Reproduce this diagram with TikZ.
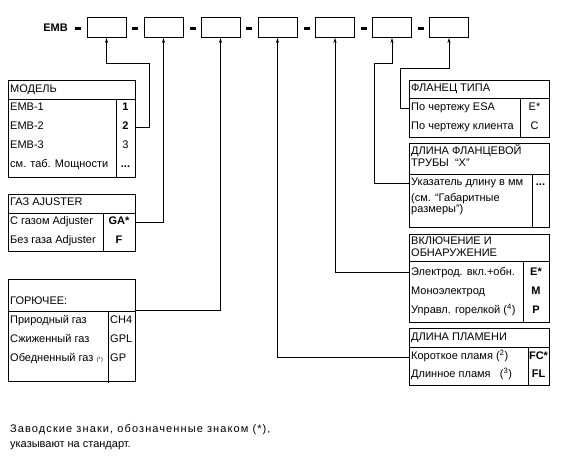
\documentclass[tikz,border=0pt]{standalone}
\usepackage{fontspec}
\setmainfont{Liberation Sans}
\usetikzlibrary{arrows.meta,positioning,calc}

\begin{document}
\begin{tikzpicture}[x=1pt, y=-1pt,
      codebox/.style={draw, line width=0.9pt, minimum width=39pt,
        minimum height=20pt, inner sep=0pt},
      frame/.style={line width=0.9pt},
      conn/.style={-{Stealth[length=5pt, width=3.2pt]}, line width=0.9pt},
      hyph/.style={line width=2.2pt},
      txt/.style={font=\fontsize{11}{13}\selectfont, anchor=west, inner sep=0pt,
        text height=8pt, text depth=2.5pt},
      code/.style={font=\fontsize{11}{13}\selectfont, inner sep=0pt,
        text height=8pt, text depth=2.5pt},
      codeb/.style={code, font=\fontsize{11}{13}\selectfont\bfseries},
      note/.style={font=\fontsize{11}{13}\selectfont, anchor=west, inner sep=0pt,
        text height=8pt, text depth=2.5pt}
    ]
    \useasboundingbox (0,0) rectangle (568,460);

    % order code
    \node[font=\fontsize{11}{13}\selectfont\bfseries] (emb) at (55.5,28) {EMB};
    \foreach \i/\x in {1/106.5, 2/163.5, 3/220.5, 4/277.5, 5/335, 6/392, 7/449}
      \node[codebox] (c\i) at (\x,27.5) {};
    \foreach \x in {78, 135, 193, 249, 306.5, 363.5, 421}
      \draw[hyph] (\x-3,28.5) -- (\x+3,28.5);

    % model
    \draw[frame] (8,80) rectangle (135,177);
    \draw[frame] (8,99) -- (135,99) (116,99) -- (116,177);
    \node[txt] (modh) at (10,89.5) {МОДЕЛЬ};
    \node[txt] (modt1) at (10,108) {EMB-1};
    \node[txt] (modt2) at (10,127) {EMB-2};
    \node[txt] (modt3) at (10,146) {EMB-3};
    \node[txt] (modt4) at (10,165) {см. таб. Мощности};
    \node[codeb] (mod1) at (125.5,108) {1};
    \node[codeb] (mod2) at (125.5,127) {2};
    \node[code]  (mod3) at (125.5,146) {3};
    \node[codeb] (mod4) at (125.5,165) {...};
    \coordinate (modin) at (135,127);

    % gas adjuster
    \draw[frame] (8,194) rectangle (135,251);
    \draw[frame] (8,213) -- (135,213) (103,213) -- (103,251);
    \node[txt] (gash) at (10,203) {ГАЗ AJUSTER};
    \node[txt] (gast1) at (10,222) {С газом Adjuster};
    \node[txt] (gast2) at (10,241) {Без газа Adjuster};
    \node[codeb] (gas1) at (119,222) {GA*};
    \node[codeb] (gas2) at (119,241) {F};
    \coordinate (gasin) at (135,222);

    % fuel
    \draw[frame] (8,279) rectangle (135,381);
    \draw[frame] (8,311) -- (135,311) (108,311) -- (108,383);
    \node[txt] (fuelh) at (10,302) {ГОРЮЧЕЕ:};
    \node[txt] (fuelt1) at (10,321) {Природный газ};
    \node[txt] (fuelt2) at (10,340) {Сжиженный газ};
    \node[txt] (fuelt3) at (10,359) {Обедненный газ {\fontsize{5.5}{6}\selectfont(\textsuperscript{1})}};
    \node[code, anchor=west] (fuel1) at (110,321) {CH4};
    \node[code, anchor=west] (fuel2) at (110,340) {GPL};
    \node[code, anchor=west] (fuel3) at (110,359) {GP};
    \coordinate (fuelin) at (135,310);

    % flange
    \draw[frame] (409,80) rectangle (549,137);
    \draw[frame] (409,98) -- (549,98) (520,98) -- (520,137);
    \node[txt] (flah) at (411,89) {ФЛАНЕЦ ТИПА};
    \node[txt] (flat1) at (411,108) {По чертежу ESA};
    \node[txt] (flat2) at (411,127) {По чертежу клиента};
    \node[code] (fla1) at (534.5,108) {E*};
    \node[code] (fla2) at (534.5,127) {C};
    \coordinate (flain) at (409,108);

    % flange tube length
    \draw[frame] (409,143) rectangle (549,227);
    \draw[frame] (409,174) -- (549,174) (532,174) -- (532,227);
    \node[txt] (lenh1) at (411,152) {ДЛИНА ФЛАНЦЕВОЙ};
    \node[txt] (lenh2) at (411,164) {ТРУБЫ\ \ “X”};
    \node[txt] (lent1) at (411,183) {Указатель длину в мм};
    \node[txt] (lent2) at (411,199) {(см. “Габаритные};
    \node[txt] (lent3) at (411,210) {размеры”)};
    \node[codeb] (len1) at (540.5,183) {...};
    \coordinate (lenin) at (409,183);

    % ignition and detection
    \draw[frame] (409,234) rectangle (549,322);
    \draw[frame] (409,261) -- (549,261) (523,261) -- (523,322);
    \node[txt] (ignh1) at (411,242) {ВКЛЮЧЕНИЕ И};
    \node[txt] (ignh2) at (411,254) {ОБНАРУЖЕНИЕ};
    \node[txt] (ignt1) at (411,273) {Электрод. вкл.+обн.};
    \node[txt] (ignt2) at (411,292) {Моноэлектрод};
    \node[txt] (ignt3) at (411,311) {Управл. горелкой (\textsuperscript{4})};
    \node[codeb] (ign1) at (536,273) {E*};
    \node[codeb] (ign2) at (536,292) {M};
    \node[codeb] (ign3) at (536,311) {P};
    \coordinate (ignin) at (409,272);

    % flame length
    \draw[frame] (409,328) rectangle (549,385);
    \draw[frame] (409,347) -- (549,347) (528,347) -- (528,385);
    \node[txt] (flmh) at (411,337.5) {ДЛИНА ПЛАМЕНИ};
    \node[txt] (flmt1) at (411,357) {Короткое пламя (\textsuperscript{2})};
    \node[txt] (flmt2) at (411,375) {Длинное пламя\ \ \ (\textsuperscript{3})};
    \node[codeb] (flm1) at (538.5,357) {FC*};
    \node[codeb] (flm2) at (538.5,375) {FL};
    \coordinate (flmin) at (409,357);

    % connectors
    \draw[conn] (modin) -| (149,63) -| (c1.south);
    \draw[conn] (gasin) -| (c2.south);
    \draw[conn] (fuelin) -| (c3.south);
    \draw[conn] (flmin) -| (c4.south);
    \draw[conn] (ignin) -| (c5.south);
    \draw[conn] (lenin) -| (374,63) -| (c6.south);
    \draw[conn] (flain) -| (400,68) -| (c7.south);

    % note
    \node[note] (note1) at (10,430)
      {\addfontfeature{LetterSpace=10}Заводские знаки, обозначенные знаком (*),};
    \node[note] (note2) at (10,445) {указывают на стандарт.};
  \end{tikzpicture}
\end{document}
